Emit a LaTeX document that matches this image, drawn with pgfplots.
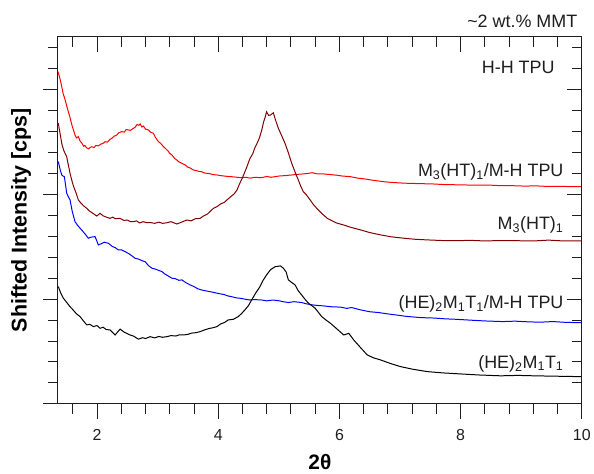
\documentclass[border=0pt]{standalone}
\usepackage{fontspec}
\setmainfont{Liberation Sans}
\usepackage{pgfplots}
\pgfplotsset{compat=1.18}
\definecolor{maroon}{RGB}{128,0,0}
\definecolor{axisgray}{RGB}{30,30,30}

% XRD patterns, vertically shifted for clarity
\pgfplotstableread{
x y
1.355 15.86
1.38 15.62
1.40 15.38
1.417 15.15
1.44 14.82
1.47 14.55
1.50 14.22
1.526 13.95
1.55 13.72
1.58 13.36
1.61 13.08
1.636 12.84
1.66 12.70
1.691 12.76
1.72 12.55
1.747 12.46
1.78 12.30
1.80 12.34
1.830 12.22
1.86 12.18
1.89 12.25
1.912 12.28
1.95 12.24
1.98 12.34
2.021 12.32
2.06 12.40
2.10 12.44
2.132 12.52
2.17 12.50
2.21 12.62
2.243 12.68
2.28 12.78
2.326 12.84
2.36 12.95
2.408 13.00
2.45 12.98
2.48 13.10
2.517 13.08
2.55 13.06
2.59 13.14
2.628 13.21
2.66 13.34
2.69 13.30
2.711 13.37
2.74 13.22
2.765 13.27
2.80 13.12
2.848 13.08
2.88 12.98
2.931 12.92
2.96 12.74
3.013 12.52
3.05 12.44
3.09 12.30
3.124 12.21
3.17 12.08
3.20 11.96
3.235 11.89
3.28 11.72
3.31 11.66
3.344 11.57
3.39 11.50
3.42 11.46
3.455 11.41
3.50 11.30
3.54 11.26
3.587 11.17
3.64 11.14
3.68 11.10
3.719 11.09
3.78 11.02
3.85 11.00
3.91 10.95
3.979 10.93
4.04 10.90
4.10 10.88
4.16 10.86
4.215 10.85
4.28 10.83
4.380 10.80
4.45 10.82
4.53 10.78
4.60 10.82
4.711 10.80
4.80 10.86
4.87 10.82
4.937 10.85
5.00 10.88
5.10 10.90
5.207 10.93
5.30 10.96
5.40 10.98
5.488 11.01
5.55 11.04
5.62 10.99
5.736 10.98
5.85 10.95
5.95 10.92
6.05 10.88
6.182 10.85
6.30 10.78
6.42 10.74
6.55 10.68
6.727 10.61
6.85 10.58
7.00 10.55
7.15 10.53
7.30 10.52
7.554 10.50
7.75 10.47
8.00 10.46
8.25 10.44
8.45 10.45
8.661 10.42
8.85 10.42
9.05 10.40
9.25 10.41
9.45 10.38
9.65 10.39
9.85 10.37
10.0 10.37
}\mhtTPU

\pgfplotstableread{
x y
1.360 13.40
1.39 12.90
1.42 12.40
1.45 12.10
1.499 11.80
1.53 11.35
1.555 11.00
1.582 10.69
1.61 10.40
1.65 10.10
1.691 9.74
1.73 9.60
1.78 9.45
1.830 9.34
1.87 9.22
1.92 9.12
1.995 8.97
2.050 9.10
2.10 8.98
2.15 8.92
2.215 8.86
2.26 8.92
2.30 8.84
2.380 8.86
2.44 8.76
2.50 8.78
2.55 8.70
2.600 8.70
2.65 8.74
2.70 8.64
2.76 8.70
2.821 8.65
2.88 8.66
2.95 8.62
3.02 8.68
3.08 8.62
3.152 8.65
3.22 8.70
3.317 8.59
3.38 8.66
3.43 8.72
3.483 8.78
3.55 8.74
3.62 8.84
3.702 8.86
3.76 8.98
3.82 9.06
3.87 9.20
3.922 9.34
3.98 9.42
4.04 9.55
4.10 9.62
4.144 9.74
4.20 9.88
4.26 10.02
4.309 10.21
4.35 10.50
4.40 10.80
4.474 11.33
4.52 11.70
4.57 11.95
4.60 12.20
4.640 12.44
4.68 12.70
4.72 13.10
4.749 13.47
4.77 13.65
4.798 13.95
4.83 13.78
4.860 13.79
4.909 13.90
4.94 13.60
4.992 13.16
5.04 12.85
5.102 12.44
5.15 12.05
5.212 11.49
5.27 11.05
5.322 10.69
5.36 10.40
5.405 10.13
5.45 10.00
5.516 9.74
5.57 9.52
5.625 9.34
5.68 9.18
5.736 9.02
5.80 8.86
5.851 8.78
5.95 8.64
6.071 8.54
6.20 8.42
6.347 8.31
6.50 8.18
6.678 8.07
6.85 7.98
7.063 7.91
7.25 7.86
7.450 7.83
7.70 7.80
7.917 7.79
8.15 7.81
8.40 7.78
8.65 7.80
8.970 7.79
9.20 7.78
9.45 7.82
9.70 7.78
10.0 7.79
}\mht

\pgfplotstableread{
x y
1.360 11.57
1.39 11.20
1.417 10.93
1.44 10.88
1.460 10.85
1.48 10.45
1.499 10.06
1.525 9.90
1.554 9.74
1.59 9.20
1.636 8.70
1.68 8.52
1.719 8.39
1.774 8.21
1.82 8.05
1.856 7.91
1.90 7.96
1.967 7.99
2.021 7.59
2.08 7.66
2.12 7.72
2.187 7.67
2.25 7.52
2.30 7.46
2.352 7.35
2.40 7.36
2.463 7.27
2.52 7.18
2.58 7.06
2.628 6.95
2.68 6.92
2.74 6.84
2.793 6.79
2.85 6.60
2.904 6.48
2.96 6.44
3.01 6.38
3.069 6.32
3.12 6.20
3.18 6.10
3.235 6.00
3.29 5.98
3.35 5.90
3.400 5.92
3.47 5.78
3.537 5.68
3.60 5.60
3.66 5.50
3.724 5.44
3.79 5.40
3.86 5.36
3.945 5.31
4.02 5.26
4.10 5.22
4.15 5.16
4.220 5.12
4.30 5.06
4.37 5.04
4.441 5.00
4.52 4.96
4.60 4.98
4.716 4.96
4.80 4.92
4.90 4.96
4.992 4.93
5.07 4.88
5.157 4.84
5.25 4.88
5.377 4.84
5.45 4.78
5.542 4.73
5.64 4.70
5.736 4.68
5.85 4.64
6.017 4.62
6.12 4.56
6.20 4.60
6.347 4.49
6.50 4.40
6.65 4.36
6.788 4.30
6.95 4.24
7.10 4.18
7.339 4.12
7.55 4.10
7.75 4.06
7.917 4.04
8.15 4.00
8.40 3.96
8.694 3.93
8.90 3.95
9.10 3.92
9.30 3.90
9.521 3.93
9.75 3.89
10.0 3.88
}\hemtTPU

\pgfplotstableread{
x y
1.360 5.60
1.40 5.30
1.443 5.05
1.50 4.84
1.554 4.64
1.60 4.50
1.66 4.30
1.719 4.17
1.77 3.98
1.830 3.77
1.88 3.80
1.939 3.69
2.00 3.74
2.050 3.61
2.10 3.66
2.150 3.55
2.215 3.53
2.298 3.29
2.380 3.57
2.45 3.42
2.545 3.29
2.60 3.24
2.683 3.09
2.75 3.16
2.80 3.12
2.876 3.21
2.95 3.15
3.02 3.22
3.08 3.18
3.152 3.21
3.22 3.26
3.30 3.24
3.36 3.30
3.426 3.29
3.50 3.32
3.56 3.38
3.63 3.40
3.702 3.45
3.78 3.54
3.85 3.60
3.92 3.64
3.979 3.69
4.04 3.82
4.10 3.88
4.165 4.01
4.25 4.04
4.331 4.17
4.38 4.30
4.441 4.49
4.50 4.70
4.550 4.96
4.62 5.30
4.689 5.60
4.74 5.90
4.798 6.16
4.86 6.40
4.937 6.55
5.025 6.59
5.074 6.48
5.12 6.30
5.157 5.92
5.21 5.80
5.268 5.68
5.32 5.40
5.377 5.20
5.43 5.00
5.488 4.81
5.54 4.70
5.598 4.57
5.65 4.38
5.707 4.17
5.78 4.00
5.851 3.85
5.95 3.60
6.071 3.29
6.154 3.37
6.236 3.05
6.35 2.68
6.458 2.34
6.56 2.20
6.678 2.10
6.85 1.92
7.008 1.78
7.20 1.66
7.450 1.54
7.70 1.48
8.000 1.43
8.30 1.38
8.661 1.34
8.95 1.36
9.212 1.34
9.60 1.32
10.0 1.30
}\hemt

\begin{document}
\begin{tikzpicture}
\pgfplotsset{
  xrdframe/.style={
    width=524bp, height=367bp, scale only axis,
    xmin=1.355, xmax=10, ymin=0, ymax=17.52,
    xtick={2,4,6,8,10},
    minor xtick={1.6,2.4,2.8,3.2,3.6,4.4,4.8,5.2,5.6,6.4,6.8,7.2,7.6,8.4,8.8,9.2,9.6},
    ytick={0,5,10,15},
    minor ytick={1,2,3,4,6,7,8,9,11,12,13,14,16,17},
    major tick length=15bp, minor tick length=10bp,
    tick style={axisgray, line width=1pt},
    axis line style={axisgray, line width=1pt},
    yticklabels={},
  }
}
\begin{axis}[xrdframe, name=main,
  tick align=outside, tick pos=left,
  /pgf/number format/assume math mode=true,
  xticklabel style={font=\fontsize{16}{19}\selectfont, text=axisgray, yshift=-7bp},
  xlabel={\bfseries 2θ},
  xlabel style={font=\fontsize{21}{25}\selectfont, at={(axis description cs:0.5,-0.158)}, anchor=center},
  ylabel={\bfseries Shifted Intensity [cps]},
  ylabel style={font=\fontsize{21.5}{25}\selectfont, at={(axis description cs:-0.0706,0.5)}, anchor=center},
  clip=false,
  every axis plot/.append style={line width=1pt, no markers},
]
\addplot[red] table {\mhtTPU};
\addplot[maroon] table {\mht};
\addplot[blue] table {\hemtTPU};
\addplot[black] table {\hemt};

\begin{scope}[font=\fontsize{18}{21}\selectfont, inner sep=0pt, text=axisgray]
\node[anchor=base east] at (axis cs:9.554,15.80) {H-H TPU};
\node[anchor=base east] at (axis cs:9.70,10.85) {M\textsubscript{3}(HT)\textsubscript{1}/M-H TPU};
\node[anchor=base east] at (axis cs:9.70,8.31) {M\textsubscript{3}(HT)\textsubscript{1}};
\node[anchor=base east] at (axis cs:9.70,4.55) {(HE)\textsubscript{2}M\textsubscript{1}T\textsubscript{1}/M-H TPU};
\node[anchor=base east] at (axis cs:9.70,1.70) {(HE)\textsubscript{2}M\textsubscript{1}T\textsubscript{1}};
\end{scope}
\node[anchor=base east, inner sep=0pt, font=\fontsize{18}{21}\selectfont, text=axisgray] at (axis cs:9.929,17.98) {\textasciitilde 2 wt.\% MMT};
\end{axis}

% inward ticks on the top and right edges
\begin{axis}[xrdframe, tick align=inside, tick pos=right, xticklabels={}]
\end{axis}

\path (main.south west) ++(-58bp,-70bp) rectangle ++(594bp,474bp);
\end{tikzpicture}
\end{document}
